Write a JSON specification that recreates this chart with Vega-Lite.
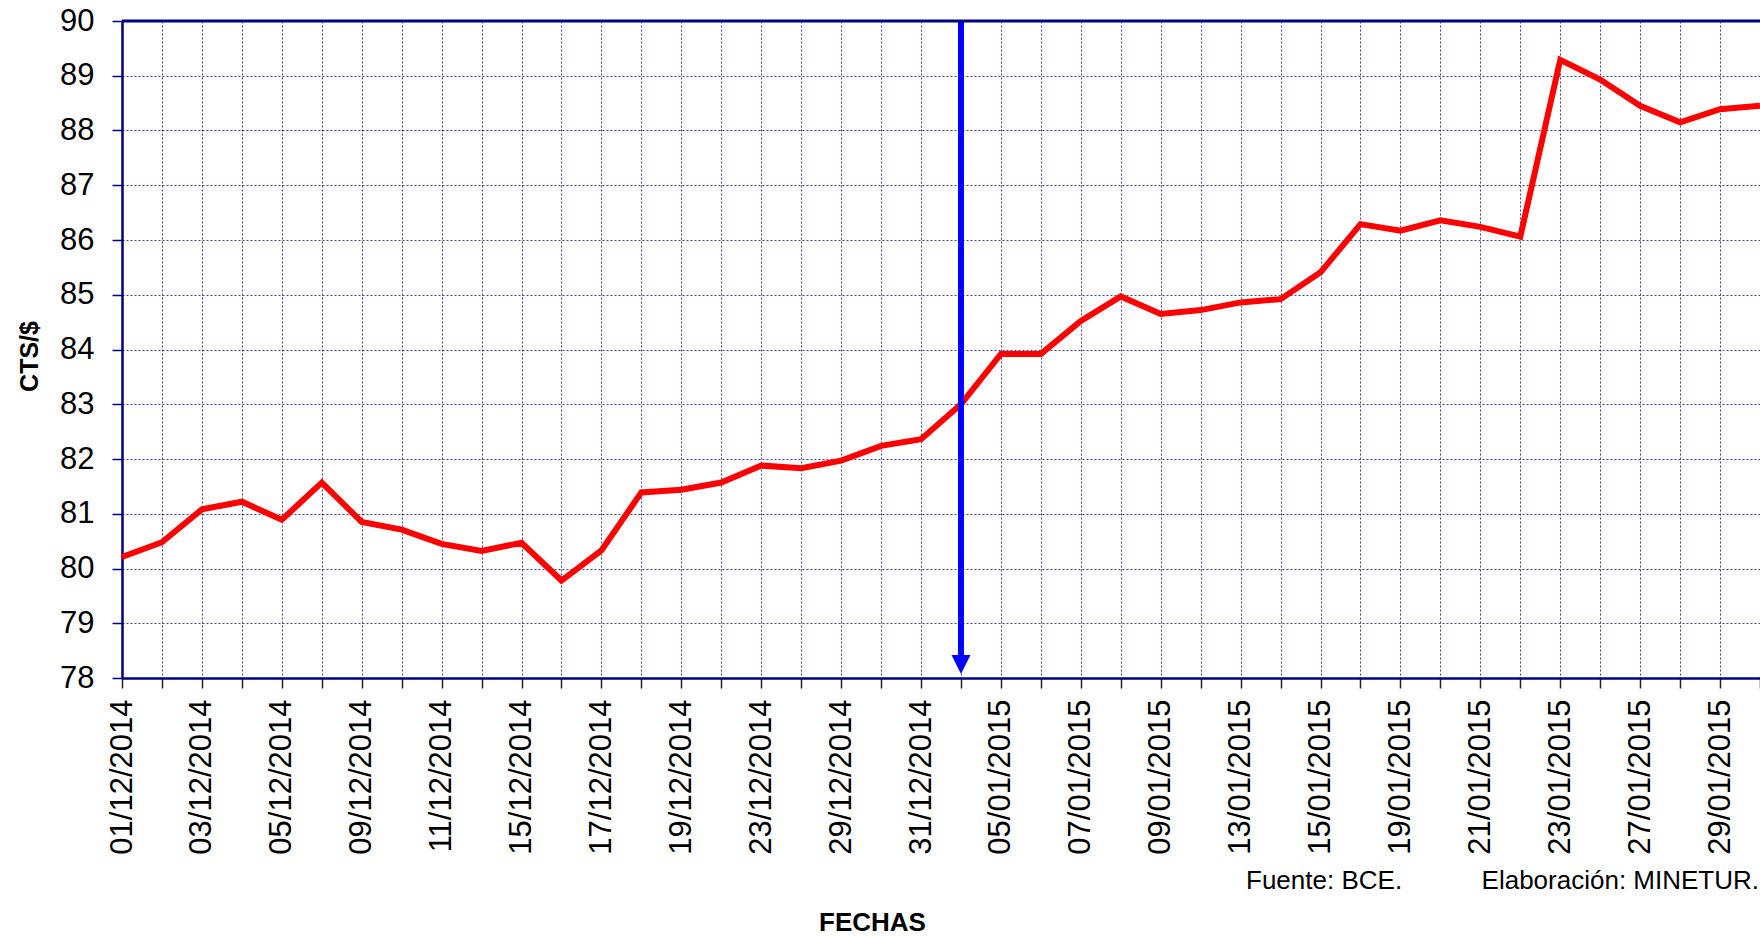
{
  "$schema": "https://vega.github.io/schema/vega-lite/v6.json",
  "width": 1638,
  "height": 657,
  "autosize": {"type": "none"},
  "padding": {"left": 122, "top": 21, "right": 0, "bottom": 258},
  "background": "white",
  "config": {"view": {"stroke": null}, "font": "Liberation Sans"},
  "title": {
    "text": "Fuente: BCE.\u00a0\u00a0\u00a0\u00a0\u00a0\u00a0\u00a0\u00a0\u00a0\u00a0\u00a0Elaboración: MINETUR.",
    "orient": "bottom",
    "anchor": "end",
    "frame": "group",
    "fontSize": 26,
    "fontWeight": "normal",
    "color": "black",
    "baseline": "alphabetic",
    "offset": -46,
    "dx": -1
  },
  "data": {
    "values": [
      {"fecha": "01/12/2014", "valor": 80.21},
      {"fecha": "02/12/2014", "valor": 80.48},
      {"fecha": "03/12/2014", "valor": 81.08},
      {"fecha": "04/12/2014", "valor": 81.22},
      {"fecha": "05/12/2014", "valor": 80.89},
      {"fecha": "08/12/2014", "valor": 81.57},
      {"fecha": "09/12/2014", "valor": 80.85},
      {"fecha": "10/12/2014", "valor": 80.71},
      {"fecha": "11/12/2014", "valor": 80.45},
      {"fecha": "12/12/2014", "valor": 80.32},
      {"fecha": "15/12/2014", "valor": 80.47},
      {"fecha": "16/12/2014", "valor": 79.78},
      {"fecha": "17/12/2014", "valor": 80.33},
      {"fecha": "18/12/2014", "valor": 81.39},
      {"fecha": "19/12/2014", "valor": 81.44},
      {"fecha": "22/12/2014", "valor": 81.57},
      {"fecha": "23/12/2014", "valor": 81.88},
      {"fecha": "24/12/2014", "valor": 81.83},
      {"fecha": "29/12/2014", "valor": 81.97},
      {"fecha": "30/12/2014", "valor": 82.24},
      {"fecha": "31/12/2014", "valor": 82.36},
      {"fecha": "02/01/2015", "valor": 83.0},
      {"fecha": "05/01/2015", "valor": 83.92},
      {"fecha": "06/01/2015", "valor": 83.92},
      {"fecha": "07/01/2015", "valor": 84.52},
      {"fecha": "08/01/2015", "valor": 84.97},
      {"fecha": "09/01/2015", "valor": 84.65},
      {"fecha": "12/01/2015", "valor": 84.72},
      {"fecha": "13/01/2015", "valor": 84.86},
      {"fecha": "14/01/2015", "valor": 84.92},
      {"fecha": "15/01/2015", "valor": 85.41},
      {"fecha": "16/01/2015", "valor": 86.29},
      {"fecha": "19/01/2015", "valor": 86.17},
      {"fecha": "20/01/2015", "valor": 86.36},
      {"fecha": "21/01/2015", "valor": 86.24},
      {"fecha": "22/01/2015", "valor": 86.06},
      {"fecha": "23/01/2015", "valor": 89.29},
      {"fecha": "26/01/2015", "valor": 88.93},
      {"fecha": "27/01/2015", "valor": 88.45},
      {"fecha": "28/01/2015", "valor": 88.15},
      {"fecha": "29/01/2015", "valor": 88.39},
      {"fecha": "30/01/2015", "valor": 88.45}
    ]
  },
  "layer": [
    {
      "mark": {"type": "line", "color": "#ff0000", "strokeWidth": 6, "strokeJoin": "miter"},
      "encoding": {
        "x": {
          "field": "fecha",
          "type": "ordinal",
          "sort": null,
          "scale": {"type": "point", "padding": 0},
          "axis": {
            "title": "FECHAS",
            "titleFontSize": 26,
            "titleFontWeight": "bold",
            "titleColor": "black",
            "titleX": 750,
            "titleY": 252,
            "titleAlign": "center",
            "titleBaseline": "alphabetic",
            "titleAngle": 0,
            "labelAngle": -90,
            "labelAlign": "right",
            "labelBaseline": "middle",
            "labelFontSize": 31,
            "labelColor": "black",
            "labelPadding": 11,
            "labelOverlap": false,
            "labelBound": false,
            "labelFlush": false,
            "labelExpr": "indexof(['01/12/2014','03/12/2014','05/12/2014','09/12/2014','11/12/2014','15/12/2014','17/12/2014','19/12/2014','23/12/2014','29/12/2014','31/12/2014','05/01/2015','07/01/2015','09/01/2015','13/01/2015','15/01/2015','19/01/2015','21/01/2015','23/01/2015','27/01/2015','29/01/2015'], datum.value) >= 0 ? datum.label : ''",
            "domainColor": "#000080",
            "domainWidth": 2.5,
            "tickColor": "#222222",
            "tickSize": 10,
            "tickWidth": 1.5,
            "grid": true,
            "gridColor": "#000080",
            "gridDash": [2, 2],
            "gridWidth": 1,
            "gridOpacity": 0.75
          }
        },
        "y": {
          "field": "valor",
          "type": "quantitative",
          "scale": {"domain": [78, 90], "nice": false, "zero": false},
          "axis": {
            "title": "CTS/$",
            "titleFontSize": 25,
            "titleFontWeight": "bold",
            "titleColor": "black",
            "titleX": -93,
            "titleY": 335,
            "titleAngle": -90,
            "titleAlign": "center",
            "titleBaseline": "middle",
            "values": [78, 79, 80, 81, 82, 83, 84, 85, 86, 87, 88, 89, 90],
            "format": "d",
            "labelFontSize": 31,
            "labelColor": "black",
            "labelPadding": 18,
            "labelBound": false,
            "labelFlush": false,
            "tickSize": 10,
            "tickColor": "#000080",
            "tickWidth": 1.5,
            "domainColor": "#000080",
            "domainWidth": 2.5,
            "grid": true,
            "gridColor": "#000080",
            "gridDash": [2, 2],
            "gridWidth": 1,
            "gridOpacity": 0.75
          }
        }
      }
    },
    {
      "data": {"values": [{}]},
      "mark": {"type": "rule", "color": "#0000ff", "strokeWidth": 6},
      "encoding": {
        "x": {"datum": "02/01/2015", "type": "ordinal"},
        "y": {"datum": 90},
        "y2": {"datum": 78.33}
      }
    },
    {
      "data": {"values": [{}]},
      "mark": {"type": "point", "shape": "M-1,-1L1,-1L0,1Z", "size": 360, "filled": true, "color": "#0000ff", "opacity": 1, "strokeWidth": 0, "yOffset": -13.5},
      "encoding": {
        "x": {"datum": "02/01/2015", "type": "ordinal"},
        "y": {"datum": 78}
      }
    },
    {
      "data": {"values": [{}]},
      "mark": {"type": "rule", "color": "#000080", "strokeWidth": 3},
      "encoding": {
        "y": {"datum": 90}
      }
    }
  ]
}
